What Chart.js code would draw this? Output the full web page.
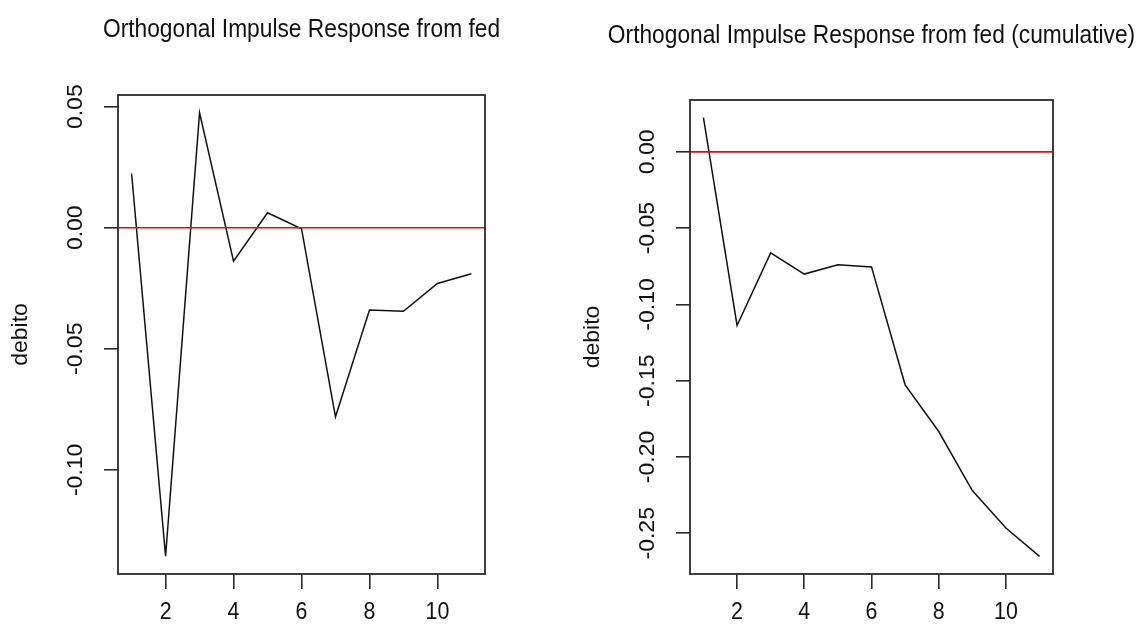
<!DOCTYPE html>
<html>
<head>
<meta charset="utf-8">
<script src="https://cdn.jsdelivr.net/npm/chart.js@4.4.0/dist/chart.umd.min.js"></script>
<style>
  html, body { margin: 0; padding: 0; background: #ffffff; }
  #wrap { position: relative; width: 1136px; height: 630px; overflow: hidden; }
  #wrap canvas { position: absolute; top: 0; }
</style>
</head>
<body>
<div id="wrap">
  <canvas id="irf" width="568" height="630" style="left:0px"></canvas>
  <canvas id="cum" width="568" height="630" style="left:568px"></canvas>
</div>
<script>
// Orthogonal impulse response of "debito" to a shock in "fed", horizons 1..11
const horizons = [1, 2, 3, 4, 5, 6, 7, 8, 9, 10, 11];
const responseDebito = [0.0224, -0.1357, 0.0475, -0.0138, 0.0062, -0.0004, -0.0781, -0.0340, -0.0345, -0.0230, -0.0190];
const cumulativeDebito = [0.0225, -0.1138, -0.0662, -0.0801, -0.0740, -0.0754, -0.1527, -0.1833, -0.2220, -0.2466, -0.2652];

// Axis ticks
const xTicks = [2, 4, 6, 8, 10];
const yTicksResponse = [0.05, 0.00, -0.05, -0.10];
const yTicksCumulative = [0.00, -0.05, -0.10, -0.15, -0.20, -0.25];

// Text
const titleResponse = 'Orthogonal Impulse Response from fed';
const titleCumulative = 'Orthogonal Impulse Response from fed (cumulative)';
const yAxisLabel = 'debito';

const FONT = '"Liberation Sans", Arial, sans-serif';
const INK = '#111111';

// R-style axis limits: data range padded by 4% on each side
function paddedRange(values) {
  const lo = Math.min(...values), hi = Math.max(...values);
  const pad = (hi - lo) * 0.04;
  return [lo - pad, hi + pad];
}

// Box around the plot region plus all text, drawn the way base graphics lays it out
const basePlotDecor = {
  id: 'basePlotDecor',
  afterDraw(chart, args, opts) {
    const ctx = chart.ctx;
    const area = chart.chartArea;
    const xs = chart.scales.x, ys = chart.scales.y;
    ctx.save();

    // plot box
    ctx.strokeStyle = '#2a2a2a';
    ctx.lineWidth = 1.8;
    ctx.strokeRect(area.left, area.top, area.right - area.left, area.bottom - area.top);

    ctx.fillStyle = INK;

    // main title, centred over the plot region
    ctx.save();
    ctx.font = '25px ' + FONT;
    ctx.textAlign = 'center';
    ctx.textBaseline = 'alphabetic';
    ctx.translate((area.left + area.right) / 2, area.top - opts.titleGap);
    ctx.scale(0.91, 1);
    ctx.fillText(opts.title, 0, 0);
    ctx.restore();

    // x tick labels
    ctx.font = '23px ' + FONT;
    ctx.textAlign = 'center';
    ctx.textBaseline = 'middle';
    opts.xTicks.forEach(v => {
      ctx.save();
      ctx.translate(xs.getPixelForValue(v), area.bottom + 39);
      ctx.scale(0.93, 1);
      ctx.fillText(String(v), 0, 0);
      ctx.restore();
    });

    // y tick labels, rotated parallel to the axis
    opts.yTicks.forEach(v => {
      ctx.save();
      ctx.translate(area.left - 42, ys.getPixelForValue(v));
      ctx.rotate(-Math.PI / 2);
      ctx.scale(1, 0.93);
      ctx.fillText(v.toFixed(2), 0, 0);
      ctx.restore();
    });

    // y axis title
    ctx.save();
    ctx.font = '23px ' + FONT;
    ctx.translate(area.left - 97, (area.top + area.bottom) / 2);
    ctx.rotate(-Math.PI / 2);
    ctx.scale(1, 0.93);
    ctx.fillText(yAxisLabel, 0, 0);
    ctx.restore();

    ctx.restore();
  }
};

function makePlot(canvasId, values, yTicks, title, area, titleGap) {
  const [yMin, yMax] = paddedRange(values);
  const xMin = horizons[0] - 0.04 * (horizons[horizons.length - 1] - horizons[0]);
  const xMax = horizons[horizons.length - 1] + 0.04 * (horizons[horizons.length - 1] - horizons[0]);

  const points = horizons.map((h, i) => ({ x: h, y: values[i] }));
  const zeroLine = [{ x: xMin, y: 0 }, { x: xMax, y: 0 }];

  const axisWidth = 60;
  const axisHeight = 630 - area.bottom;

  return new Chart(document.getElementById(canvasId), {
    type: 'line',
    data: {
      datasets: [
        {
          data: zeroLine,
          borderColor: '#ff0000',
          borderWidth: 1.6,
          pointRadius: 0,
          tension: 0,
          order: 0
        },
        {
          data: points,
          borderColor: '#111111',
          borderWidth: 1.5,
          pointRadius: 0,
          tension: 0,
          order: 1
        }
      ]
    },
    options: {
      responsive: false,
      animation: false,
      events: [],
      layout: {
        padding: {
          left: area.left - axisWidth,
          right: 568 - area.right,
          top: area.top,
          bottom: 0
        }
      },
      plugins: {
        legend: { display: false },
        title: { display: false },
        tooltip: { enabled: false },
        basePlotDecor: { title: title, xTicks: xTicks, yTicks: yTicks, titleGap: titleGap }
      },
      scales: {
        x: {
          type: 'linear',
          min: xMin,
          max: xMax,
          afterBuildTicks: s => { s.ticks = xTicks.map(v => ({ value: v })); },
          afterFit: s => { s.height = axisHeight; },
          ticks: { display: false },
          border: { display: false },
          grid: {
            drawOnChartArea: false,
            drawTicks: true,
            tickLength: 15,
            color: '#2a2a2a',
            lineWidth: 1.6
          }
        },
        y: {
          type: 'linear',
          min: yMin,
          max: yMax,
          afterBuildTicks: s => { s.ticks = yTicks.map(v => ({ value: v })); },
          afterFit: s => { s.width = axisWidth; },
          ticks: { display: false },
          border: { display: false },
          grid: {
            drawOnChartArea: false,
            drawTicks: true,
            tickLength: 14,
            color: '#2a2a2a',
            lineWidth: 1.6
          }
        }
      }
    },
    plugins: [basePlotDecor]
  });
}

makePlot('irf', responseDebito, yTicksResponse, titleResponse,
  { left: 118, right: 485, top: 95, bottom: 574 }, 58);
makePlot('cum', cumulativeDebito, yTicksCumulative, titleCumulative,
  { left: 122, right: 485, top: 100, bottom: 574 }, 57.5);
</script>
</body>
</html>
